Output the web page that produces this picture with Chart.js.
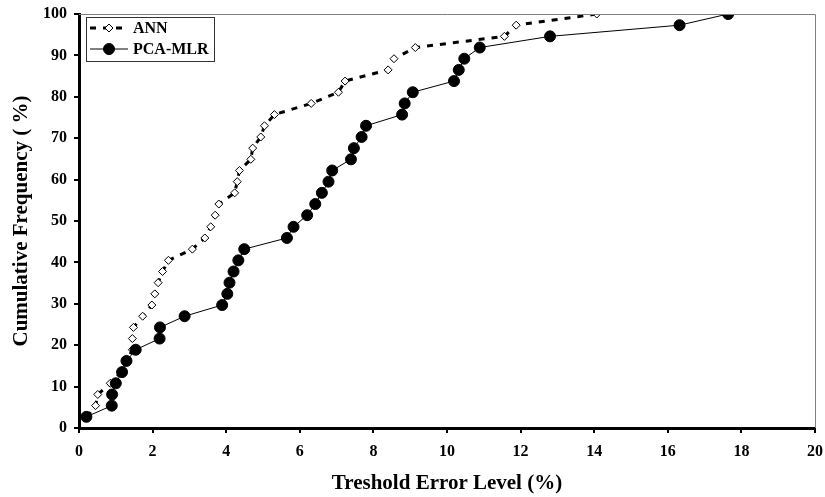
<!DOCTYPE html>
<html>
<head>
<meta charset="utf-8">
<script src="https://cdn.jsdelivr.net/npm/chart.js@4"></script>
<style>
  html, body { margin: 0; padding: 0; background: #fff; }
  #wrap { width: 825px; height: 497px; position: relative; }
</style>
</head>
<body>
<div id="wrap"><canvas id="chart"></canvas></div>
<script>
// cumulative frequency (%) shared by both series
const freq = [2.7, 5.4, 8.1, 10.8, 13.5, 16.2, 18.9, 21.6, 24.3, 27.0, 29.7, 32.4, 35.1, 37.8, 40.5, 43.2, 45.9, 48.6,
  51.4, 54.1, 56.8, 59.5, 62.2, 64.9, 67.6, 70.3, 73.0, 75.7, 78.4, 81.1, 83.8, 86.5, 89.2, 91.9, 94.6, 97.3, 100];

// threshold error level (%) for each series
const annErr = [0.22, 0.45, 0.51, 0.85, 1.15, 1.3, 1.45, 1.45, 1.48, 1.73, 1.98, 2.06, 2.15, 2.27, 2.43, 3.08, 3.42, 3.58,
  3.7, 3.8, 4.23, 4.3, 4.36, 4.67, 4.72, 4.94, 5.04, 5.31, 6.31, 7.05, 7.23, 8.4, 8.56, 9.14, 11.56, 11.88, 14.07];
const pcaErr = [0.2, 0.89, 0.9, 1.0, 1.17, 1.29, 1.54, 2.19, 2.2, 2.87, 3.89, 4.03, 4.09, 4.2, 4.33, 4.49, 5.65, 5.83,
  6.2, 6.42, 6.6, 6.78, 6.88, 7.39, 7.47, 7.68, 7.8, 8.78, 8.85, 9.07, 10.19, 10.32, 10.47, 10.89, 12.8, 16.32, 17.64];

const seriesNames = ['ANN', 'PCA-MLR'];

const FONT = '"Liberation Serif", "Times New Roman", serif';

const toPoints = (xs) => xs.map((x, i) => ({ x: x, y: freq[i] }));

// grey top/right frame + legend box
const framePlugin = {
  id: 'frame',
  afterDraw(chart) {
    const { ctx, chartArea: a } = chart;
    ctx.save();
    ctx.strokeStyle = '#808080';
    ctx.lineWidth = 1;
    ctx.beginPath();
    ctx.moveTo(a.left, a.top + 0.5);
    ctx.lineTo(a.right + 0.5, a.top + 0.5);
    ctx.lineTo(a.right + 0.5, a.bottom);
    ctx.stroke();

    // legend
    const bx = 86, by = 17, bw = 128, bh = 44;
    ctx.fillStyle = '#fff';
    ctx.fillRect(bx, by, bw, bh);
    ctx.strokeStyle = '#333';
    ctx.lineWidth = 1;
    ctx.strokeRect(bx + 0.5, by + 0.5, bw, bh);

    chart.data.datasets.forEach((ds, i) => {
      const cy = by + 11 + i * 21;
      ctx.strokeStyle = '#000';
      ctx.lineWidth = ds.borderWidth;
      ctx.setLineDash(ds.borderDash || []);
      ctx.beginPath();
      ctx.moveTo(bx + 4, cy);
      ctx.lineTo(bx + 42, cy);
      ctx.stroke();
      ctx.setLineDash([]);
      // marker
      ctx.fillStyle = ds.pointBackgroundColor;
      ctx.lineWidth = 1;
      const r = ds.pointRadius;
      const mx = bx + 23;
      ctx.beginPath();
      if (ds.pointStyle === 'rectRot') {
        ctx.moveTo(mx, cy - r); ctx.lineTo(mx + r, cy); ctx.lineTo(mx, cy + r); ctx.lineTo(mx - r, cy); ctx.closePath();
      } else {
        ctx.arc(mx, cy, r, 0, Math.PI * 2);
      }
      ctx.fill();
      ctx.stroke();
      ctx.fillStyle = '#000';
      ctx.font = 'bold 16px ' + FONT;
      ctx.textBaseline = 'middle';
      ctx.textAlign = 'left';
      ctx.fillText(ds.label, bx + 47, cy + 1);
    });
    ctx.restore();
  }
};

new Chart(document.getElementById('chart'), {
  type: 'scatter',
  data: {
    datasets: [
      {
        label: seriesNames[0],
        data: toPoints(annErr),
        showLine: true,
        borderColor: '#000',
        borderWidth: 3,
        borderDash: [6, 7],
        pointStyle: 'rectRot',
        pointRadius: 4,
        pointBorderWidth: 1,
        pointBorderColor: '#000',
        pointBackgroundColor: '#fff',
        order: 1
      },
      {
        label: seriesNames[1],
        data: toPoints(pcaErr),
        showLine: true,
        borderColor: '#000',
        borderWidth: 1,
        pointStyle: 'circle',
        pointRadius: 5.5,
        pointBorderWidth: 1,
        pointBorderColor: '#000',
        pointBackgroundColor: '#000',
        order: 0
      }
    ]
  },
  options: {
    responsive: true,
    maintainAspectRatio: false,
    animation: false,
    layout: { padding: { top: 14, right: 10, left: 0, bottom: 0 } },
    plugins: { legend: { display: false }, tooltip: { enabled: false } },
    scales: {
      x: {
        type: 'linear',
        min: 0, max: 20,
        border: { color: '#000', width: 3 },
        grid: { drawOnChartArea: false, drawTicks: true, tickLength: 5, color: '#000', lineWidth: 2 },
        ticks: { stepSize: 2, color: '#000', padding: 9, font: { family: FONT, size: 16, weight: 'bold' } },
        title: { display: true, text: 'Treshold Error Level (%)', color: '#000', padding: { top: 4, bottom: 1 },
          font: { family: FONT, size: 21, weight: 'bold' } },
        afterFit(scale) { scale.height = 69; scale.paddingLeft = 0; scale.paddingRight = 0; }
      },
      y: {
        type: 'linear',
        min: 0, max: 100,
        border: { color: '#000', width: 3 },
        grid: { drawOnChartArea: false, drawTicks: true, tickLength: 5, color: '#000', lineWidth: 2 },
        ticks: { stepSize: 10, color: '#000', padding: 7, font: { family: FONT, size: 16, weight: 'bold' } },
        title: { display: true, text: 'Cumulative Frequency ( %)', color: '#000', padding: { top: 9, bottom: 4 },
          font: { family: FONT, size: 21, weight: 'bold' } },
        afterFit(scale) { scale.width = 79; scale.paddingTop = 0; scale.paddingBottom = 0; }
      }
    }
  },
  plugins: [framePlugin]
});
</script>
</body>
</html>
